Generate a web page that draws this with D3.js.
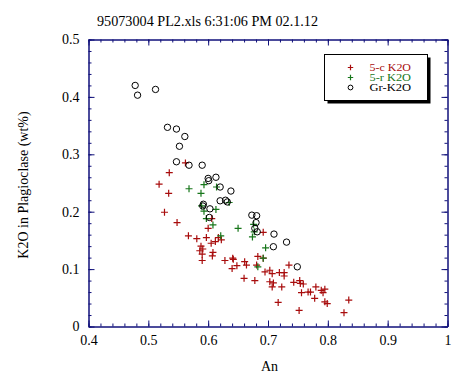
<!DOCTYPE html>
<html><head><meta charset="utf-8">
<script src="https://cdn.jsdelivr.net/npm/d3@7"></script>
<style>
html,body{margin:0;padding:0;background:#fff;}
svg text{font-family:"Liberation Serif","Times New Roman",serif;fill:#000;}
</style></head>
<body><svg id="chart" width="470" height="381"></svg>
<script>
const titleText = "95073004 PL2.xls 6:31:06 PM 02.1.12";
const xLabel = "An";
const yLabel = "K2O in Plagioclase (wt%)";
const seriesNames = ["5-c K2O", "5-r K2O", "Gr-K2O"];
const xTicks = [0.4, 0.5, 0.6, 0.7, 0.8, 0.9, 1];
const yTicks = [0, 0.1, 0.2, 0.3, 0.4, 0.5];

// 5-c K2O (red pluses)
const coreAn = [0.518,0.535,0.562,0.534,0.527,0.548,0.600,0.606,0.567,0.581,0.597,0.617,0.622,0.612,0.605,0.588,0.591,0.586,0.608,0.607,0.590,0.590,0.628,0.642,0.640,0.648,0.661,0.664,0.660,0.678,0.683,0.692,0.681,0.695,0.703,0.707,0.719,0.727,0.727,0.735,0.703,0.709,0.707,0.723,0.743,0.753,0.754,0.759,0.756,0.767,0.771,0.780,0.778,0.789,0.792,0.795,0.795,0.799,0.717,0.752,0.835,0.827,0.692,0.641];
const coreK2O = [0.248,0.268,0.285,0.232,0.199,0.181,0.171,0.188,0.158,0.153,0.155,0.155,0.151,0.148,0.145,0.140,0.135,0.132,0.129,0.123,0.126,0.115,0.115,0.117,0.101,0.106,0.113,0.107,0.084,0.080,0.122,0.119,0.107,0.095,0.098,0.092,0.094,0.094,0.088,0.107,0.078,0.076,0.069,0.069,0.077,0.080,0.075,0.074,0.059,0.060,0.060,0.069,0.049,0.063,0.059,0.065,0.043,0.040,0.042,0.028,0.046,0.024,0.164,0.119];

// 5-r K2O (green pluses)
const rimAn = [0.568,0.593,0.614,0.588,0.589,0.593,0.613,0.597,0.608,0.635,0.650,0.676,0.677,0.674,0.696,0.621,0.692,0.683];
const rimK2O = [0.240,0.247,0.243,0.232,0.210,0.201,0.204,0.188,0.177,0.216,0.171,0.178,0.165,0.156,0.137,0.158,0.119,0.104];

// Gr-K2O (open circles)
const grAn = [0.478,0.482,0.512,0.532,0.547,0.561,0.552,0.547,0.568,0.590,0.600,0.601,0.613,0.620,0.638,0.592,0.591,0.620,0.629,0.632,0.603,0.602,0.673,0.681,0.680,0.678,0.682,0.710,0.731,0.709,0.749];
const grK2O = [0.420,0.403,0.413,0.347,0.344,0.331,0.314,0.287,0.281,0.281,0.258,0.254,0.260,0.243,0.236,0.213,0.210,0.219,0.220,0.217,0.205,0.190,0.194,0.193,0.181,0.171,0.165,0.161,0.147,0.139,0.104];

const RED = "#a80c0c", GREEN = "#17761a", AXIS = "#10107a";

const svg = d3.select("#chart");
const x = d3.scaleLinear().domain([0.4, 1]).range([88.5, 447.5]);
const y = d3.scaleLinear().domain([0, 0.5]).range([326.5, 39.5]);
const fmt = d => String(+d.toFixed(2));
const xMinor = d3.range(0, 31).map(i => +(0.4 + i * 0.02).toFixed(2));
const yMinor = d3.range(0, 26).map(i => +(i * 0.02).toFixed(2));

function styleAxis(g){
  g.selectAll("path,line").attr("stroke", AXIS).attr("stroke-width", 1);
  g.selectAll("text").style("font-size", "14px").attr("fill", "#000");
}
// minor ticks
svg.append("g").attr("transform", `translate(0,${y(0)})`)
  .call(d3.axisBottom(x).tickValues(xMinor).tickSize(-3).tickSizeOuter(0).tickFormat("")).call(styleAxis);
svg.append("g").attr("transform", `translate(0,${y(0.5)})`)
  .call(d3.axisTop(x).tickValues(xMinor).tickSize(-3).tickSizeOuter(0).tickFormat("")).call(styleAxis);
svg.append("g").attr("transform", `translate(${x(0.4)},0)`)
  .call(d3.axisLeft(y).tickValues(yMinor).tickSize(-3).tickSizeOuter(0).tickFormat("")).call(styleAxis);
svg.append("g").attr("transform", `translate(${x(1)},0)`)
  .call(d3.axisRight(y).tickValues(yMinor).tickSize(-3).tickSizeOuter(0).tickFormat("")).call(styleAxis);
// major ticks
svg.append("g").attr("transform", `translate(0,${y(0)})`)
  .call(d3.axisBottom(x).tickValues(xTicks).tickSize(-6).tickSizeOuter(0).tickPadding(9).tickFormat(fmt)).call(styleAxis);
svg.append("g").attr("transform", `translate(0,${y(0.5)})`)
  .call(d3.axisTop(x).tickValues(xTicks).tickSize(-6).tickSizeOuter(0).tickFormat("")).call(styleAxis);
svg.append("g").attr("transform", `translate(${x(0.4)},0)`)
  .call(d3.axisLeft(y).tickValues(yTicks).tickSize(-6).tickSizeOuter(0).tickPadding(9).tickFormat(fmt)).call(styleAxis);
svg.append("g").attr("transform", `translate(${x(1)},0)`)
  .call(d3.axisRight(y).tickValues(yTicks).tickSize(-6).tickSizeOuter(0).tickFormat("")).call(styleAxis);

// titles
svg.append("text").attr("x", 97).attr("y", 26).style("font-size", "15px")
  .attr("textLength", 221).attr("lengthAdjust", "spacingAndGlyphs").text(titleText);
svg.append("text").attr("x", 269.5).attr("y", 371).attr("text-anchor", "middle").style("font-size", "14px").text(xLabel);
svg.append("text").attr("transform", "translate(27.5,185) rotate(-90)").attr("text-anchor", "middle")
  .style("font-size", "14px").text(yLabel);

// marks
const plot = svg.append("g");
function plus(g, cx, cy, h, color){
  g.append("path").attr("d", `M${cx-h},${cy}H${cx+h}M${cx},${cy-h}V${cy+h}`)
    .attr("stroke", color).attr("stroke-width", 1.2).attr("fill", "none");
}
coreAn.forEach((a, i) => plus(plot, x(a), y(coreK2O[i]), 3.5, RED));
rimAn.forEach((a, i) => plus(plot, x(a), y(rimK2O[i]), 3.5, GREEN));
plot.selectAll("circle.gr").data(grAn.map((a, i) => [a, grK2O[i]])).enter().append("circle")
  .attr("class", "gr").attr("cx", d => x(d[0])).attr("cy", d => y(d[1])).attr("r", 3.2)
  .attr("fill", "none").attr("stroke", "#000").attr("stroke-width", 1);

// legend
const lg = svg.append("g");
lg.append("rect").attr("x", 327.5).attr("y", 57.5).attr("width", 103).attr("height", 46).attr("fill", "#000");
lg.append("rect").attr("x", 324.5).attr("y", 54.5).attr("width", 103).attr("height", 46)
  .attr("fill", "#fff").attr("stroke", "#000").attr("stroke-width", 1);
const legColors = [RED, GREEN, "#000"];
const rowY = [67.5, 77.5, 87.5];
seriesNames.forEach((n, i) => {
  if (i < 2) plus(lg, 350.5, rowY[i], 2.7, legColors[i]);
  else lg.append("circle").attr("cx", 350.5).attr("cy", rowY[i]).attr("r", 2.4).attr("fill", "none").attr("stroke", "#000");
  lg.append("text").attr("x", 369.5).attr("y", rowY[i] + 3.3).style("font-size", "10px")
    .attr("textLength", 41.5).attr("lengthAdjust", "spacingAndGlyphs")
    .attr("fill", legColors[i]).style("fill", legColors[i]).text(n);
});
</script></body></html>
